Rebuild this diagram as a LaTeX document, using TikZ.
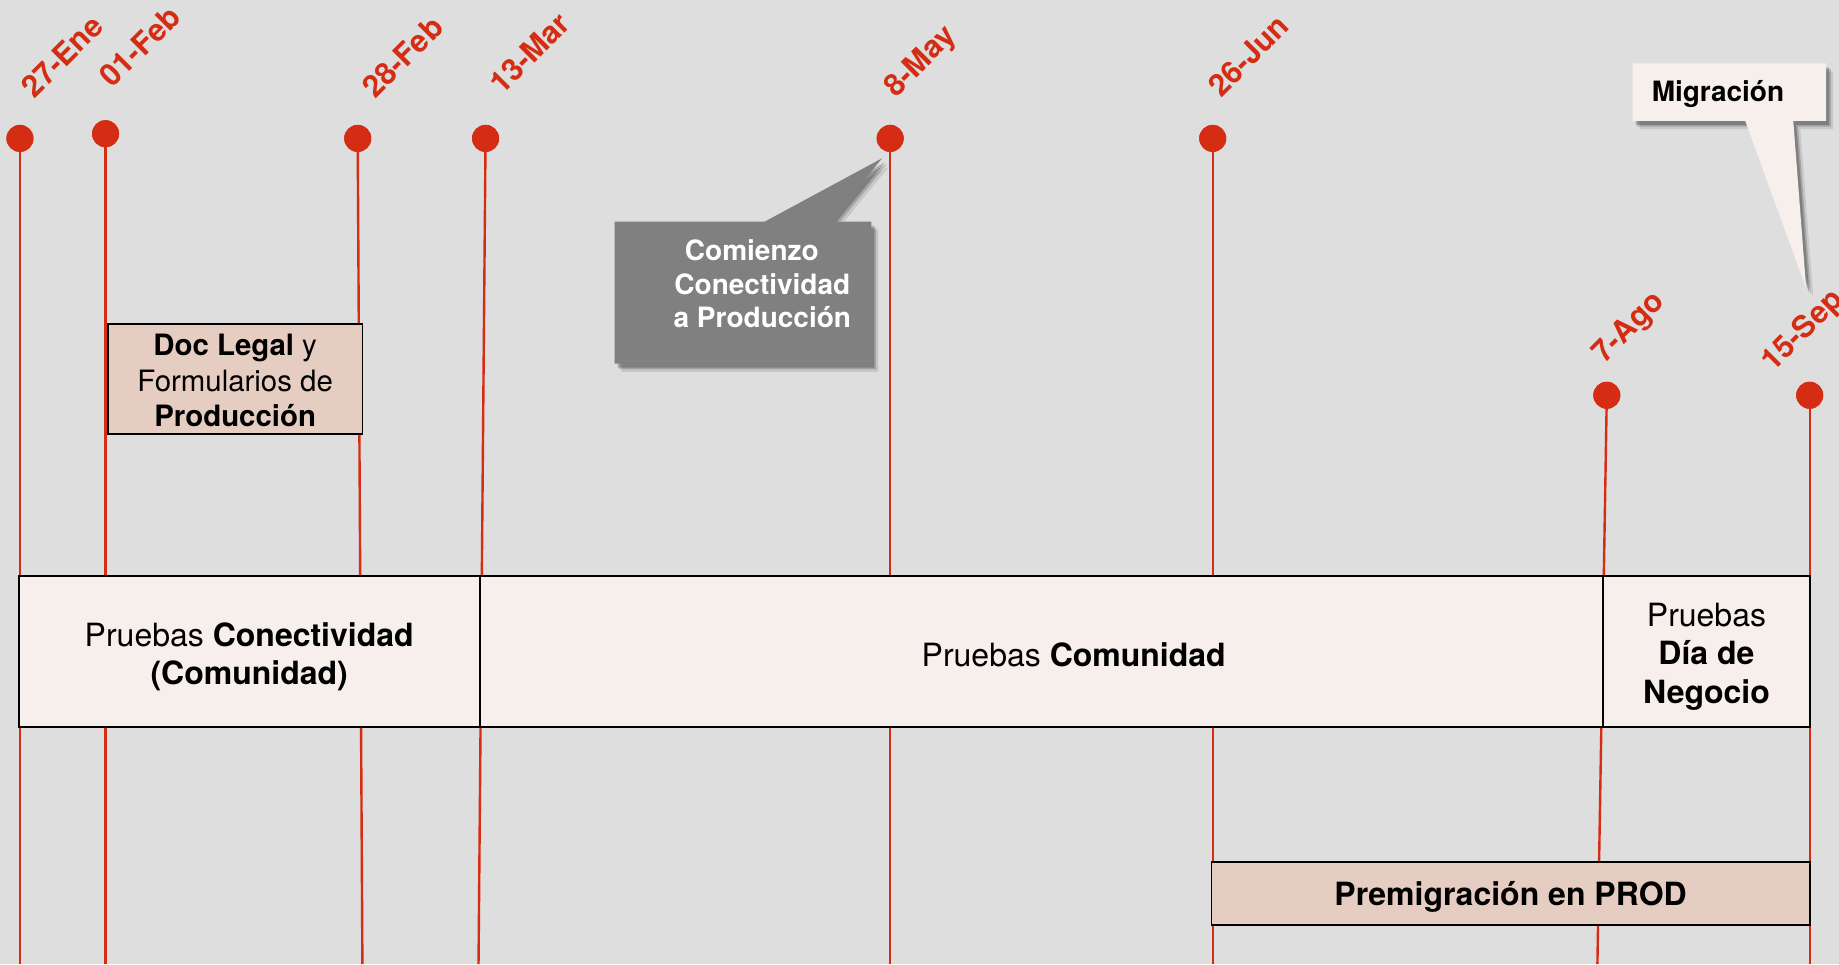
\documentclass[tikz,border=0pt]{standalone}
\usepackage{fontspec}
\setmainfont{TeX Gyre Heros}
\definecolor{bg}{RGB}{222,222,222}
\definecolor{tlred}{RGB}{213,44,20}
\definecolor{boxlight}{RGB}{246,239,235}
\definecolor{boxpink}{RGB}{230,205,193}
\definecolor{callgray}{RGB}{128,128,128}
\begin{document}
\begin{tikzpicture}[x=0.5864pt,y=-0.5864pt,
  dot/.style={circle,fill=tlred,inner sep=0pt,minimum size=13.5pt},
  tlline/.style={draw=tlred,line width=1.2pt},
  datelbl/.style={rotate=45,anchor=base west,inner sep=0pt,text=tlred,
    font=\fontsize{15.3}{17}\selectfont\bfseries},
  phase/.style={draw=black,line width=0.9pt,fill=boxlight,inner sep=0pt},
  boxtext/.style={inner sep=0pt,align=center,font=\fontsize{16}{19.4}\selectfont},
  pinkbox/.style={draw=black,line width=0.9pt,fill=boxpink,inner sep=0pt},
  calltext/.style={inner sep=0pt,align=center,font=\fontsize{14}{16.7}\selectfont\bfseries}
]
\fill[bg] (0,0) rectangle (1568,822);
\useasboundingbox (0,0) rectangle (1568,822);

% bottom ends of the date lines
\coordinate (b1) at (17,822);
\coordinate (b2) at (90,822);
\coordinate (b3) at (309,822);
\coordinate (b4) at (408,822);
\coordinate (b5) at (759,822);
\coordinate (b6) at (1034,822);
\coordinate (b7) at (1362,822);
\coordinate (b8) at (1543,822);

% dots
\node[dot] (d1) at (17,118) {};
\node[dot] (d2) at (90,114) {};
\node[dot] (d3) at (305,118) {};
\node[dot] (d4) at (414,118) {};
\node[dot] (d5) at (759,118) {};
\node[dot] (d6) at (1034,118) {};
\node[dot] (d7) at (1370,337) {};
\node[dot] (d8) at (1543,337) {};

% lines
\foreach \i in {1,...,8} {\draw[tlline] (d\i.center) -- (b\i);}
\foreach \i in {1,...,8} {\node[dot] at (d\i) {};}

% date labels
\node[datelbl] (l1) at (29,85) {27-Ene};
\node[datelbl] (l2) at (96,76) {01-Feb};
\node[datelbl] (l3) at (320,85) {28-Feb};
\node[datelbl] (l4) at (428,82) {13-Mar};
\node[datelbl] (l5) at (764,84) {8-May};
\node[datelbl] (l6) at (1041,84) {26-Jun};
\node[datelbl] (l7) at (1368,311) {7-Ago};
\node[datelbl] (l8) at (1512,318) {15-Sep};

% phase boxes
\node[phase,minimum width=393*0.5864pt,minimum height=129*0.5864pt] (p1) at (212.5,555.5) {};
\node[phase,minimum width=958*0.5864pt,minimum height=129*0.5864pt] (p2) at (888,555.5) {};
\node[phase,minimum width=176*0.5864pt,minimum height=129*0.5864pt] (p3) at (1455,555.5) {};
\node[boxtext] (p1t) at (212.5,560) {Pruebas \textbf{Conectividad}\\\textbf{(Comunidad)}};
\node[boxtext] (p2t) at (915.5,558) {Pruebas \textbf{Comunidad}};
\node[boxtext] (p3t) at (1455,560) {Pruebas\\\textbf{Día de}\\\textbf{Negocio}};

\node[pinkbox,minimum width=217*0.5864pt,minimum height=94*0.5864pt] (doc) at (200.5,323) {};
\node[boxtext,font=\fontsize{14.7}{17.6}\selectfont] (doct) at (200.5,324.5)
  {\textbf{Doc Legal} y\\Formularios de\\\textbf{Producción}};
\node[pinkbox,minimum width=510*0.5864pt,minimum height=54*0.5864pt] (prem) at (1288,762) {};
\node[boxtext,font=\fontsize{16}{19.4}\selectfont\bfseries] (premt) at (1288,765)
  {Premigración en PROD};

% gray callout
\foreach \s/\o in {6/0.10,4/0.18,2.5/0.22}{
  \fill[black,opacity=\o,shift={(\s,\s+1)}]
    (524,189) -- (652,189) -- (752,135) -- (708,189) -- (743,189)
    -- (743,310) -- (524,310) -- cycle;}
\fill[callgray] (524,189) -- (652,189) -- (752,135) -- (708,189) -- (743,189)
    -- (743,310) -- (524,310) -- cycle;
\node[calltext,text=white] (com) at (650,242)
  {Comienzo\hspace*{0.75em}\\Conectividad\\a Producción};

% Migracion callout
\foreach \s/\o in {6/0.10,4/0.18,2.5/0.22}{
  \fill[black,opacity=\o,shift={(\s,\s+1)}]
    (1392,54) -- (1557,54) -- (1557,103) -- (1529,103) -- (1540,246)
    -- (1488,103) -- (1392,103) -- cycle;}
\fill[boxlight] (1392,54) -- (1557,54) -- (1557,103) -- (1529,103) -- (1540,246)
    -- (1488,103) -- (1392,103) -- cycle;
\node[calltext,anchor=west,text=black] (mig) at (1408,80) {Migración};
\end{tikzpicture}
\end{document}
